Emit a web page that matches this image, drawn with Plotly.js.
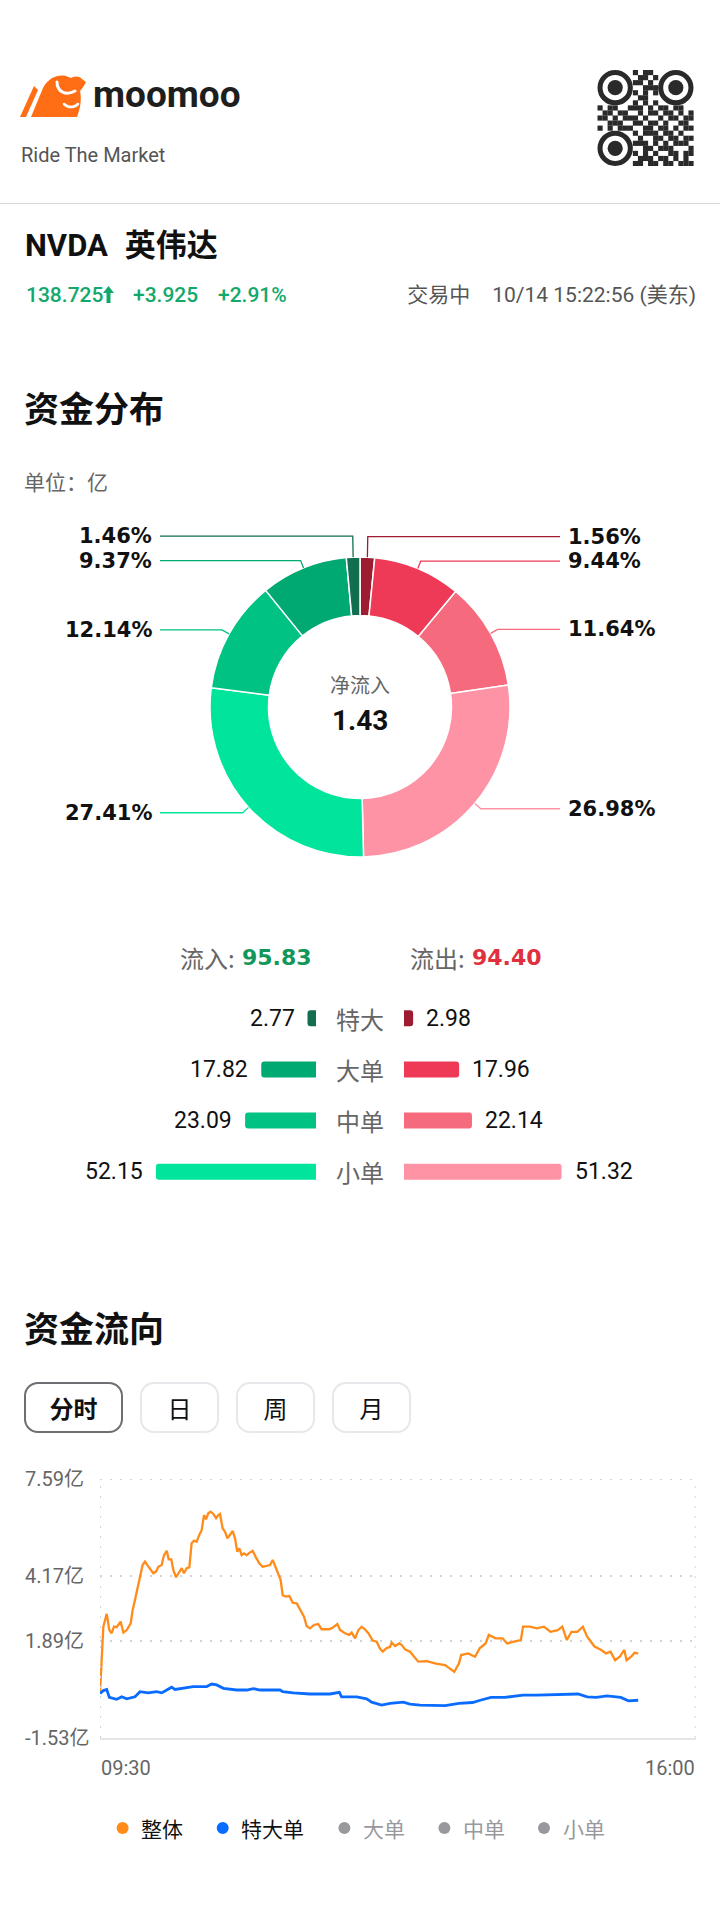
<!DOCTYPE html>
<html>
<head>
<meta charset="utf-8">
<script src="https://cdn.plot.ly/plotly-3.0.1.min.js"></script>
<style>
  body { margin: 0; background: #fff; }
  #page { position: relative; width: 720px; height: 1921px; overflow: hidden; font-family: Roboto, "Noto Sans CJK SC", sans-serif; }
  #chart { position: absolute; left: 0; top: 0; width: 720px; height: 1921px; }
  .abs { position: absolute; white-space: nowrap; }
  .title { font-family: "Noto Sans CJK SC"; font-weight: bold; font-size: 35px; line-height: 35px; color: #111; left: 24px; }
  .btn { position: absolute; top: 1382px; height: 51px; box-sizing: border-box; border: 2px solid #e6e8ec; border-radius: 14px;
         font: 24px "Noto Sans CJK SC"; display: flex; align-items: center; justify-content: center; color: #111; }
</style>
</head>
<body>
<div id="page">
  <div id="chart"></div>

  <!-- header -->
  <svg class="abs" style="left:20px;top:73px" width="66" height="44" viewBox="0 0 66 44">
    <path d="M0 44 L6 44 L18 17 L14 13 Z" fill="#ff6e14"/>
    <path d="M11 44 L23 15 C28 5 38 1 46 3 L51 5 C55 3 59 3 62 6 L66 9 C64 13 62 16 60 18 C62 27 60 36 57 44 Z" fill="#ff6e14"/>
    <path d="M37 9 C37 19 46 23 55 18" fill="none" stroke="#fff" stroke-width="3" stroke-linecap="round"/>
    <path d="M44 31 C48 35 54 35 58 31" fill="none" stroke="#fff" stroke-width="2.5" stroke-linecap="round"/>
  </svg>
  <div class="abs" style="left:93px;top:76px;font-size:37px;line-height:37px;font-weight:bold;color:#1e1e1e">moomoo</div>
  <div class="abs" style="left:21px;top:145px;font-size:20px;line-height:20px;color:#555">Ride The Market</div>
  <svg id="qr" class="abs" style="left:597px;top:70px" width="97" height="96" viewBox="0 0 19 19"></svg>
  <div class="abs" style="left:0;top:203px;width:720px;height:1px;background:#d8d8d8"></div>

  <div class="abs" style="left:25px;top:230px;font-size:31px;line-height:31px;font-weight:bold;color:#111">NVDA<span style="margin-left:17px">英伟达</span></div>
  <div class="abs" style="left:26px;top:285px;font-size:21px;line-height:21px;font-weight:500;color:#13a86b">
    138.725<svg width="11" height="17" viewBox="0 0 11 17" style="vertical-align:-1px"><path d="M5.5 0 L11 7 L7.5 7 L7.5 17 L3.5 17 L3.5 7 L0 7 Z" fill="#13a86b"/></svg>
  </div>
  <div class="abs" style="left:133px;top:285px;font-size:21px;line-height:21px;font-weight:500;color:#13a86b">+3.925</div>
  <div class="abs" style="left:218px;top:285px;font-size:21px;line-height:21px;font-weight:500;color:#13a86b">+2.91%</div>
  <div class="abs" style="right:24px;top:285px;font-size:21px;line-height:21px;color:#555">交易中<span style="margin-left:22px">10/14 15:22:56 (美东)</span></div>

  <div class="abs title" style="top:389px">资金分布</div>
  <div class="abs" style="left:24px;top:471px;font-family:'Noto Sans CJK SC';font-size:21px;line-height:21px;color:#666">单位：亿</div>

  <div class="abs title" style="top:1309px">资金流向</div>
  <div class="btn" style="left:24px;width:99px;border-color:#6e6e73;font-weight:bold">分时</div>
  <div class="btn" style="left:140px;width:79px">日</div>
  <div class="btn" style="left:236px;width:79px">周</div>
  <div class="btn" style="left:332px;width:79px">月</div>
</div>

<script>
// ---- data ----
const flowCats = ['特大', '大单', '中单', '小单'];
const inflow = [2.77, 17.82, 23.09, 52.15];
const outflow = [2.98, 17.96, 22.14, 51.32];
const inPct = ['1.46%', '9.37%', '12.14%', '27.41%'];
const outPct = ['1.56%', '9.44%', '11.64%', '26.98%'];
const inColors = ['#126e4f', '#00a872', '#00c283', '#00e59b'];
const outColors = ['#9e1c31', '#ee3a56', '#f66a7d', '#ff93a6'];

// minutes after 09:30, flow in 亿
const timeTicks = ['09:30', '16:00'];
const flowTicks = [7.59, 4.17, 1.89, -1.53];
const totalMin = [
  0, 1.5, 2.2, 4.4, 6.1, 7.6, 9.2, 10.9, 13.5, 15.3,
  17.5, 20.1, 21.4, 22.9, 24.4, 26.2, 27.9, 29.5, 31, 32.7,
  34.9, 36.7, 38.2, 40.4, 41.9, 43.7, 45, 46.7, 48, 49.8,
  51.9, 53.5, 55, 56.8, 58.5, 60, 61.6, 63.3, 65, 66.6,
  68.1, 69.4, 70.9, 72.5, 74.2, 76, 77.5, 78.6, 80.3, 81.9,
  83.4, 85.1, 86.9, 88.4, 89.9, 91.2, 92.8, 94.3, 96.1, 97.8,
  100, 102.1, 104.3, 106.5, 109.2, 111.3, 113.1, 114.8, 116.8, 118.3,
  119.6, 121.8, 124, 126.2, 128.8, 131.4, 133.6, 135.3, 137.5, 140.1,
  142.9, 145.1, 147.3, 150.1, 152.8, 155.4, 157.2, 158.9, 160.4, 163.2,
  164.8, 167, 169.2, 171.3, 173.5, 175.7, 178.6, 181.2, 183.3, 185.1,
  187.3, 189.9, 191, 193.2, 196, 197.6, 199.7, 203, 206.3, 208.4,
  214, 220, 226, 230.4, 232, 235, 236.5, 241, 245.6, 248.6,
  252.5, 254.6, 259, 263.6, 266.6, 271, 275.6, 277, 281.6, 286,
  290.6, 295, 299.7, 302.7, 305.7, 308.7, 312.6, 316.2, 319, 323.8,
  328.3, 331.3, 334.3, 337.3, 340.3, 343.3, 344.8, 347.8, 350, 352.4
];
const totalFlow = [
  0.08, 1.92, 2.39, 2.84, 2.27, 2.16, 2.39, 2.37, 2.57, 2.18,
  2.27, 2.51, 2.98, 3.33, 3.74, 4.15, 4.56, 4.68, 4.56, 4.45,
  4.27, 4.33, 4.50, 4.56, 4.91, 5.06, 4.76, 4.76, 4.39, 4.13,
  4.33, 4.45, 4.27, 4.45, 4.48, 5.33, 5.42, 5.38, 5.62, 5.79,
  6.32, 6.17, 6.38, 6.44, 6.36, 6.21, 6.32, 6.36, 5.85, 5.73,
  5.50, 5.62, 5.76, 5.50, 5.03, 5.15, 4.91, 4.97, 4.91, 4.99,
  5.06, 4.83, 4.62, 4.50, 4.53, 4.56, 4.74, 4.50, 4.27, 4.03,
  3.50, 3.45, 3.47, 3.23, 3.21, 2.98, 2.74, 2.41, 2.33, 2.45,
  2.48, 2.30, 2.30, 2.30, 2.37, 2.48, 2.27, 2.21, 2.16, 2.10,
  2.18, 1.98, 2.27, 2.39, 2.30, 2.16, 1.90, 1.86, 1.62, 1.51,
  1.62, 1.68, 1.83, 1.71, 1.80, 1.74, 1.59, 1.51, 1.27, 1.16,
  1.18, 1.09, 1.04, 0.86, 0.80, 1.09, 1.39, 1.45, 1.33, 1.63,
  1.80, 2.10, 1.98, 1.98, 1.80, 1.86, 1.92, 2.39, 2.39, 2.33,
  2.39, 2.21, 2.27, 2.39, 1.92, 2.21, 2.21, 2.39, 2.04, 1.69,
  1.57, 1.45, 1.51, 1.21, 1.33, 1.57, 1.21, 1.33, 1.47, 1.45
];
const xlMin = [
  0, 2.2, 4.4, 6.1, 10.9, 14.2, 17.5, 22.9, 26.2, 31.6,
  37.1, 40.4, 43.7, 46.9, 49.1, 54.6, 61.1, 69.9, 73.1, 76.4,
  80.8, 89.5, 96.1, 100.4, 104.8, 117.9, 119.6, 126.6, 137.5, 150.6,
  156.7, 158.2, 168.1, 174.6, 177.9, 184.4, 189.9, 198.6, 203, 209.5,
  214, 226, 235, 244, 249, 256, 265, 277, 286, 295,
  313, 319, 325, 332, 341, 346, 352.4
];
const xlFlow = [
  0.04, 0.14, 0.18, -0.10, -0.17, -0.08, -0.15, -0.08, 0.10, 0.06,
  0.10, 0.06, 0.16, 0.26, 0.18, 0.22, 0.28, 0.28, 0.37, 0.34,
  0.22, 0.16, 0.16, 0.21, 0.16, 0.16, 0.10, 0.06, 0.02, 0.02,
  0.08, -0.08, -0.08, -0.15, -0.27, -0.37, -0.31, -0.27, -0.34, -0.37,
  -0.37, -0.39, -0.31, -0.28, -0.20, -0.10, -0.10, -0.02, -0.02, 0.00,
  0.02, -0.08, -0.10, -0.05, -0.10, -0.22, -0.20
];
const legendNames = ['整体', '特大单', '大单', '中单', '小单'];
const legendDot = ['#ff8c1a', '#0a6cff', '#98989d', '#98989d', '#98989d'];
const legendTxt = ['#111', '#111', '#98989d', '#98989d', '#98989d'];

// ---- qr decoration ----
const qrRows = [
  '0000000101100000000', '0000000011010000000', '0000000110100000000', '0000000001110000000',
  '0000000101010000000', '0000000011000000000', '0000000101010000000', '1011001110101101100',
  '0110110010110110101', '1101011101001011011', '0011100110110100110', '1010111001101101011',
  '0000000101110110100', '0000000010011011011', '0000000111010101110', '0000000001101110001',
  '0000000101010011011', '0000000011101101010', '0000000110110110111'
];
let qr = '';
qrRows.forEach((r, i) => r.split('').forEach((c, j) => {
  if (c === '1') qr += `<rect x="${j}" y="${i}" width="1.02" height="1.02" fill="#2a2a2a"/>`;
}));
[[3.5, 3.5], [15.5, 3.5], [3.5, 15.5]].forEach(([a, b]) => {
  qr += `<circle cx="${a}" cy="${b}" r="3" fill="none" stroke="#2a2a2a" stroke-width="1"/><circle cx="${a}" cy="${b}" r="1.5" fill="#2a2a2a"/>`;
});
document.getElementById('qr').innerHTML = qr;

// ---- layout helpers (pixel -> paper) ----
const W = 720, H = 1921;
const px = x => x / W;
const py = y => 1 - y / H;
const sum = a => a.reduce((s, v) => s + v, 0);

// donut
const cx = 360, cy = 707, R = 150;
const pieVals = outflow.concat(inflow.slice().reverse());
const pieColors = outColors.concat(inColors.slice().reverse());
const pieText = outPct.concat(inPct.slice().reverse());
const total = sum(pieVals);

let acc = 0;
const pieLab = pieVals.map((v, i) => {
  const mid = (acc + v / 2) / total * 2 * Math.PI;
  acc += v;
  const s = Math.sin(mid), c = Math.cos(mid);
  return { text: pieText[i], color: pieColors[i], right: s >= 0,
    ex: cx + R * s, ey: cy - R * c, kx: cx + (R + 8) * s, ly: cy - (R + 8) * c };
});
[true, false].forEach(side => {
  const g = pieLab.filter(p => p.right === side).sort((a, b) => a.ly - b.ly);
  for (let k = g.length - 2; k >= 0; k--) {
    if (g[k].ly > g[k + 1].ly - 24.5) g[k].ly = g[k + 1].ly - 24.5;
  }
});

const shapes = [];
const annotations = [];
const ann = o => annotations.push(Object.assign({ showarrow: false, yanchor: 'middle' }, o));

pieLab.forEach(p => {
  const endX = p.right ? 560 : 160;
  shapes.push({
    type: 'path', xref: 'paper', yref: 'paper',
    path: `M ${px(p.ex)},${py(p.ey)} L ${px(p.kx)},${py(p.ly)} L ${px(endX)},${py(p.ly)}`,
    line: { color: p.color, width: 1.3 }
  });
  ann({ xref: 'paper', yref: 'paper', x: px(p.right ? 566 : 154), y: py(p.ly),
    xanchor: p.right ? 'left' : 'right',
    text: p.text, font: { family: 'DejaVu Sans', size: 21, color: '#111', weight: 'bold' } });
});

const inSum = sum(inflow), outSum = sum(outflow);
ann({ xref: 'paper', yref: 'paper', x: 0.5, y: py(685), text: '净流入',
  font: { family: 'Noto Sans CJK SC', size: 20, color: '#666' } });
ann({ xref: 'paper', yref: 'paper', x: 0.5, y: py(720), text: (inSum - outSum).toFixed(2),
  font: { family: 'Roboto', size: 28, color: '#111', weight: 'bold' } });
ann({ xref: 'paper', yref: 'paper', x: px(237), y: py(958), xanchor: 'right', text: '流入:',
  font: { family: 'Noto Sans CJK SC', size: 24, color: '#666' } });
ann({ xref: 'paper', yref: 'paper', x: px(240), y: py(958), xanchor: 'left', text: inSum.toFixed(2),
  font: { family: 'DejaVu Sans', size: 22, color: '#12965a', weight: 'bold' } });
ann({ xref: 'paper', yref: 'paper', x: px(467), y: py(958), xanchor: 'right', text: '流出:',
  font: { family: 'Noto Sans CJK SC', size: 24, color: '#666' } });
ann({ xref: 'paper', yref: 'paper', x: px(470), y: py(958), xanchor: 'left', text: outSum.toFixed(2),
  font: { family: 'DejaVu Sans', size: 22, color: '#e0303f', weight: 'bold' } });

// bar rows
flowCats.forEach((c, i) => {
  ann({ xref: 'paper', yref: 'y2', x: 0.5, y: c, text: c,
    font: { family: 'Noto Sans CJK SC', size: 24, color: '#666' } });
  ann({ xref: 'x2', yref: 'y2', x: inflow[i], y: c, xanchor: 'right', xshift: -11,
    text: inflow[i].toFixed(2), font: { family: 'Roboto', size: 23, color: '#111' } });
  ann({ xref: 'x4', yref: 'y2', x: outflow[i], y: c, xanchor: 'left', xshift: 11,
    text: outflow[i].toFixed(2), font: { family: 'Roboto', size: 23, color: '#111' } });
});

// line chart labels
flowTicks.forEach(v => {
  ann({ xref: 'paper', yref: 'y3', x: px(23), y: v, xanchor: 'left',
    text: v.toFixed(2) + '亿', font: { family: 'Roboto, Noto Sans CJK SC', size: 20, color: '#666' } });
});
ann({ xref: 'x3', yref: 'paper', x: 0, y: py(1768), xanchor: 'left', xshift: -1, text: timeTicks[0],
  font: { family: 'Roboto', size: 20, color: '#666' } });
ann({ xref: 'x3', yref: 'paper', x: 390, y: py(1768), xanchor: 'right', xshift: 1, text: timeTicks[1],
  font: { family: 'Roboto', size: 20, color: '#666' } });

// dotted edge grid lines (plotly drops grid lines sitting on the plot edge)
const dots = { color: '#d4d4d4', width: 2, dash: '2px,8px' };
shapes.push(
  { type: 'line', xref: 'x3', yref: 'y3', x0: 0, x1: 390, y0: flowTicks[0], y1: flowTicks[0], line: dots },
  { type: 'line', xref: 'x3', yref: 'y3', x0: 0, x1: 0, y0: -1.53, y1: 7.59, line: dots },
  { type: 'line', xref: 'x3', yref: 'y3', x0: 390, x1: 390, y0: -1.53, y1: 7.59, line: dots }
);

// legend
const legendDotX = [122.6, 222.7, 344.4, 444.4, 544];
legendNames.forEach((n, i) => {
  const x = legendDotX[i], y = 1828;
  shapes.push({ type: 'circle', xref: 'paper', yref: 'paper', x0: px(x - 6), x1: px(x + 6), y0: py(y + 6), y1: py(y - 6),
    fillcolor: legendDot[i], line: { width: 0 } });
  ann({ xref: 'paper', yref: 'paper', x: px(x + 16.5), y: py(y), xanchor: 'left', text: n,
    font: { family: 'Noto Sans CJK SC', size: 21, color: legendTxt[i] } });
});

const traces = [
  { type: 'pie', values: pieVals, sort: false, direction: 'clockwise', rotation: 0, hole: 0.61,
    marker: { colors: pieColors, line: { color: '#fff', width: 1.5 } },
    textinfo: 'none', hoverinfo: 'skip', showlegend: false,
    domain: { x: [px(cx - R), px(cx + R)], y: [py(cy + R), py(cy - R)] } },
  { type: 'bar', orientation: 'h', x: inflow, y: flowCats, xaxis: 'x2', yaxis: 'y2', width: 0.313,
    marker: { color: inColors, cornerradius: 3 }, hoverinfo: 'skip' },
  { type: 'bar', orientation: 'h', x: outflow, y: flowCats, xaxis: 'x4', yaxis: 'y2', width: 0.313,
    marker: { color: outColors, cornerradius: 3 }, hoverinfo: 'skip' },
  { type: 'scatter', mode: 'lines', x: totalMin, y: totalFlow, xaxis: 'x3', yaxis: 'y3',
    line: { color: '#ff8c1a', width: 2.3 }, hoverinfo: 'skip' },
  { type: 'scatter', mode: 'lines', x: xlMin, y: xlFlow, xaxis: 'x3', yaxis: 'y3',
    line: { color: '#0a6cff', width: 2.8 }, hoverinfo: 'skip' }
];

const grid = { showgrid: true, gridcolor: '#d4d4d4', griddash: '2px,8px', gridwidth: 2, zeroline: false,
  showticklabels: false, ticks: '', fixedrange: true };

const layout = {
  width: W, height: H, margin: { l: 0, r: 0, t: 0, b: 0 },
  paper_bgcolor: '#fff', plot_bgcolor: 'rgba(0,0,0,0)', showlegend: false,
  xaxis: { visible: false }, yaxis: { visible: false },
  xaxis2: { domain: [px(131.8), px(316)], range: [60, 0], anchor: 'y2', visible: false },
  xaxis4: { domain: [px(404), px(588.2)], range: [0, 60], anchor: 'y2', visible: false },
  yaxis2: { domain: [py(1197.25), py(992.75)], type: 'category', categoryarray: flowCats,
    range: [3.5, -0.5], anchor: 'x2', visible: false },
  xaxis3: Object.assign({}, grid, { domain: [px(100), px(695.6)], range: [0, 390], anchor: 'y3',
    tickvals: [0, 390], showline: true, linecolor: '#e3e5e9', linewidth: 2 }),
  yaxis3: Object.assign({}, grid, { domain: [py(1738), py(1479)], range: [-1.53, 7.59], anchor: 'x3',
    tickvals: flowTicks }),
  shapes: shapes,
  annotations: annotations
};

Plotly.newPlot('chart', traces, layout, { staticPlot: true, displayModeBar: false });
</script>
</body>
</html>
